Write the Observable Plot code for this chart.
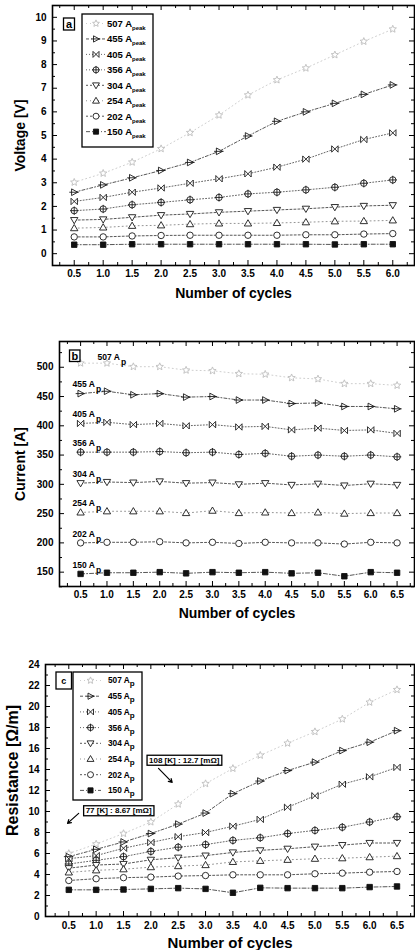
<!DOCTYPE html>
<html><head><meta charset="utf-8">
<script src="https://cdn.jsdelivr.net/npm/d3@7"></script>
<script src="https://cdn.jsdelivr.net/npm/@observablehq/plot@0.6"></script>
<style>
body{margin:0;background:#fff;}
#wrap{position:relative;width:415px;height:950px;overflow:hidden;background:#fff;}
#wrap svg{position:absolute;left:0;}
</style></head><body><div id="wrap"></div>
<script>
// ---------------- data ----------------
const peakCurrents = [507, 455, 405, 356, 304, 254, 202, 150];
const cyclesA = [0.5, 1.0, 1.5, 2.0, 2.5, 3.0, 3.5, 4.0, 4.5, 5.0, 5.5, 6.0];
const cyclesBC = [0.5, 1.0, 1.5, 2.0, 2.5, 3.0, 3.5, 4.0, 4.5, 5.0, 5.5, 6.0, 6.5];

// (a) Voltage [V]
const voltage507 = [3.02, 3.40, 3.87, 4.44, 5.12, 5.86, 6.71, 7.35, 7.85, 8.41, 8.98, 9.50];
const voltage455 = [2.60, 2.91, 3.21, 3.52, 3.86, 4.33, 4.98, 5.60, 6.00, 6.36, 6.74, 7.14];
const voltage405 = [2.21, 2.38, 2.60, 2.78, 2.98, 3.17, 3.38, 3.66, 4.00, 4.43, 4.83, 5.11];
const voltage356 = [1.82, 1.89, 2.07, 2.17, 2.28, 2.38, 2.53, 2.60, 2.70, 2.81, 2.98, 3.12];
const voltage304 = [1.42, 1.45, 1.54, 1.63, 1.68, 1.75, 1.80, 1.85, 1.90, 1.97, 2.02, 2.05];
const voltage254 = [1.08, 1.11, 1.18, 1.20, 1.25, 1.28, 1.28, 1.30, 1.33, 1.37, 1.38, 1.41];
const voltage202 = [0.71, 0.71, 0.75, 0.77, 0.78, 0.78, 0.78, 0.78, 0.80, 0.80, 0.83, 0.85];
const voltage150 = [0.38, 0.38, 0.40, 0.40, 0.40, 0.40, 0.40, 0.40, 0.40, 0.39, 0.40, 0.40];

// (b) Current [A]
const current507 = [507, 507, 501, 501, 495, 494, 489, 488, 482, 480, 472, 472, 469];
const current455 = [455, 459, 453, 455, 449, 450, 444, 444, 438, 439, 433, 433, 429];
const current405 = [404, 406, 402, 404, 400, 402, 398, 399, 393, 396, 392, 393, 387];
const current356 = [355, 355, 355, 356, 354, 355, 351, 353, 348, 350, 348, 350, 347];
const current304 = [302, 304, 303, 305, 302, 303, 300, 302, 299, 301, 298, 301, 299];
const current254 = [252, 254, 254, 254, 251, 255, 251, 252, 251, 252, 250, 251, 251];
const current202 = [200, 201, 201, 202, 200, 201, 199, 201, 200, 200, 198, 201, 200];
const current150 = [147, 149, 149, 150, 148, 150, 149, 150, 148, 149, 143, 150, 149];

// (c) Resistance
const res507 = [6.0, 6.9, 7.9, 9.0, 10.7, 12.65, 14.1, 15.35, 16.5, 17.6, 18.8, 20.4, 21.6];
const res455 = [5.7, 6.4, 7.1, 7.9, 8.8, 9.85, 11.7, 12.9, 13.9, 14.7, 15.8, 16.6, 17.7];
const res405 = [5.5, 5.8, 6.5, 7.05, 7.6, 8.0, 8.6, 9.25, 10.4, 11.5, 12.6, 13.3, 14.2];
const res356 = [5.0, 5.35, 5.7, 6.2, 6.6, 6.85, 7.25, 7.5, 7.9, 8.2, 8.5, 9.0, 9.5];
const res304 = [4.6, 4.9, 5.0, 5.4, 5.6, 5.8, 6.1, 6.3, 6.45, 6.65, 6.8, 7.0, 7.0];
const res254 = [4.2, 4.4, 4.5, 4.7, 4.8, 4.9, 5.2, 5.3, 5.4, 5.5, 5.55, 5.65, 5.75];
const res202 = [3.43, 3.6, 3.7, 3.75, 3.85, 3.9, 3.97, 3.97, 3.97, 4.07, 4.13, 4.22, 4.29];
const res150 = [2.54, 2.54, 2.57, 2.63, 2.7, 2.63, 2.26, 2.73, 2.7, 2.7, 2.7, 2.8, 2.86];

// tick labels
const xTicksA = [0.5, 1.0, 1.5, 2.0, 2.5, 3.0, 3.5, 4.0, 4.5, 5.0, 5.5, 6.0];
const xMinorA = [0.25, 0.75, 1.25, 1.75, 2.25, 2.75, 3.25, 3.75, 4.25, 4.75, 5.25, 5.75, 6.25];
const xTicksBC = [0.5, 1.0, 1.5, 2.0, 2.5, 3.0, 3.5, 4.0, 4.5, 5.0, 5.5, 6.0, 6.5];
const xMinorBC = [0.25, 0.75, 1.25, 1.75, 2.25, 2.75, 3.25, 3.75, 4.25, 4.75, 5.25, 5.75, 6.25, 6.75];
const yTicksA = [0, 1, 2, 3, 4, 5, 6, 7, 8, 9, 10];
const yMinorA = [-0.5, 0.5, 1.5, 2.5, 3.5, 4.5, 5.5, 6.5, 7.5, 8.5, 9.5];
const yTicksB = [150, 200, 250, 300, 350, 400, 450, 500];
const yMinorB = [125, 175, 225, 275, 325, 375, 425, 475, 525];
const yTicksC = [0, 2, 4, 6, 8, 10, 12, 14, 16, 18, 20, 22, 24];
const yMinorC = [1, 3, 5, 7, 9, 11, 13, 15, 17, 19, 21, 23];

// annotations in (c)
const annText = ["108 [K] : 12.7 [mΩ]", "77 [K] : 8.67 [mΩ]"];
const annX = [2.62, 1.42];
const annY = [14.87, 10.06];
const arrowFromX = [2.14, 0.68];
const arrowFromY = [14.1, 9.82];
const arrowToX = [2.39, 0.476];
const arrowToY = [12.77, 8.87];

// ---------------- symbols & styles ----------------
const rad = s => Math.sqrt(s / Math.PI);
const symStar = {draw(c, s) { const r = rad(s) * 1.2, ri = r * 0.45; for (let k = 0; k < 10; k++) { const a = -Math.PI / 2 + k * Math.PI / 5; const rr = k % 2 ? ri : r; const px = rr * Math.cos(a), py = rr * Math.sin(a); if (k) c.lineTo(px, py); else c.moveTo(px, py); } c.closePath(); }};
const symTriRight = {draw(c, s) { const r = rad(s) * 1.1; c.moveTo(r, 0); c.lineTo(-r * 0.75, -r * 0.95); c.lineTo(-r * 0.75, r * 0.95); c.closePath(); c.moveTo(-r * 1.4, 0); c.lineTo(r * 1.3, 0); }};
const symBowtie = {draw(c, s) { const r = rad(s); c.moveTo(-r, -r); c.lineTo(r, r); c.lineTo(r, -r); c.lineTo(-r, r); c.closePath(); }};
const symCirclePlus = {draw(c, s) { const r = rad(s); c.moveTo(r, 0); c.arc(0, 0, r, 0, 2 * Math.PI); c.moveTo(-r * 1.3, 0); c.lineTo(r * 1.3, 0); c.moveTo(0, -r * 1.3); c.lineTo(0, r * 1.3); }};
const symTriDown = {draw(c, s) { const r = rad(s) * 1.15; c.moveTo(0, r); c.lineTo(-r, -r * 0.7); c.lineTo(r, -r * 0.7); c.closePath(); }};
const symTriUp = {draw(c, s) { const r = rad(s) * 1.15; c.moveTo(0, -r); c.lineTo(-r, r * 0.7); c.lineTo(r, r * 0.7); c.closePath(); }};
const symCircle = {draw(c, s) { const r = rad(s); c.moveTo(r, 0); c.arc(0, 0, r, 0, 2 * Math.PI); }};
const symSquare = {draw(c, s) { const r = rad(s) * 0.85; c.rect(-r, -r, 2 * r, 2 * r); }};

const styles = [
  {sym: symStar, stroke: "#bdbdbd", fill: "white", line: "#c8c8c8", dash: "1,3"},
  {sym: symTriRight, stroke: "#1a1a1a", fill: "white", line: "#444", dash: "3,2,1,2"},
  {sym: symBowtie, stroke: "#1a1a1a", fill: "white", line: "#555", dash: "1,2"},
  {sym: symCirclePlus, stroke: "#1a1a1a", fill: "white", line: "#555", dash: "1,2"},
  {sym: symTriDown, stroke: "#1a1a1a", fill: "white", line: "#444", dash: "2,2"},
  {sym: symTriUp, stroke: "#1a1a1a", fill: "white", line: "#888", dash: "1,3"},
  {sym: symCircle, stroke: "#1a1a1a", fill: "white", line: "#444", dash: "2,2"},
  {sym: symSquare, stroke: "#111", fill: "#111", line: "#444", dash: "4,2,1,2"}
];

const FONT = "'Liberation Sans', Arial, sans-serif";
const W = 415;
const wrap = document.getElementById("wrap");

function buildPanel(cfg) {
  const mR = 1;
  const iw = W - cfg.mL - mR, ih = cfg.height - cfg.mT - cfg.mB;
  const marks = [];
  const tk = {stroke: "#000", strokeWidth: 1};
  // inward ticks, all four sides
  marks.push(Plot.ruleX(cfg.xTicks, {insetTop: ih - 5, ...tk}));
  marks.push(Plot.ruleX(cfg.xTicks, {insetBottom: ih - 5, ...tk}));
  marks.push(Plot.ruleX(cfg.xMinor, {insetTop: ih - 3, ...tk}));
  marks.push(Plot.ruleX(cfg.xMinor, {insetBottom: ih - 3, ...tk}));
  marks.push(Plot.ruleY(cfg.yTicks, {insetRight: iw - 5, ...tk}));
  marks.push(Plot.ruleY(cfg.yTicks, {insetLeft: iw - 5, ...tk}));
  marks.push(Plot.ruleY(cfg.yMinor, {insetRight: iw - 3, ...tk}));
  marks.push(Plot.ruleY(cfg.yMinor, {insetLeft: iw - 3, ...tk}));
  // series lines
  cfg.series.forEach((vals, i) => {
    const st = styles[i];
    const data = cfg.cycles.map((c, j) => ({x: c, y: vals[j]}));
    marks.push(Plot.line(data, {x: "x", y: "y", stroke: st.line, strokeWidth: 0.9, strokeDasharray: st.dash}));
  });
  cfg.series.forEach((vals, i) => {
    const st = styles[i];
    const data = cfg.cycles.map((c, j) => ({x: c, y: vals[j]}));
    marks.push(Plot.dot(data, {x: "x", y: "y", r: 3.2, symbol: st.sym, stroke: st.stroke, fill: st.fill, strokeWidth: 0.9}));
  });
  if (cfg.extra) marks.push(...cfg.extra);
  marks.push(Plot.frame({stroke: "#000", strokeWidth: 1.6}));
  marks.push(Plot.axisX({ticks: cfg.xTicks, tickSize: 0, tickPadding: cfg.xPad, tickFormat: d3.format(".1f"), label: null, fontSize: 10, fontWeight: "bold"}));
  marks.push(Plot.axisY({ticks: cfg.yTicks, tickSize: 0, tickPadding: 6, tickFormat: d3.format("d"), label: null, fontSize: 10, fontWeight: "bold"}));
  marks.push(Plot.text(["Number of cycles"], {text: d => d, frameAnchor: "bottom", lineAnchor: "middle", textAnchor: "middle", dy: cfg.titleDy, fontSize: cfg.titleSize, fontWeight: "bold"}));
  marks.push(Plot.text([cfg.yLabel], {text: d => d, frameAnchor: "left", lineAnchor: "middle", textAnchor: "middle", rotate: -90, dx: cfg.yLabelDx, dy: cfg.yLabelDy || 0, fontSize: cfg.yLabelSize || cfg.titleSize, fontWeight: "bold"}));
  const svg = Plot.plot({
    width: W, height: cfg.height,
    marginLeft: cfg.mL, marginRight: mR, marginTop: cfg.mT, marginBottom: cfg.mB,
    x: {domain: cfg.xDomain},
    y: {domain: cfg.yDomain},
    style: {fontFamily: FONT, color: "#000", background: "transparent", overflow: "visible"},
    marks
  });
  svg.style.top = cfg.top + "px";
  wrap.appendChild(svg);
  return svg;
}

function letterBox(svg, x, y, w, h, letter, fs) {
  const g = d3.select(svg).append("g");
  g.append("rect").attr("x", x).attr("y", y).attr("width", w).attr("height", h).attr("fill", "white").attr("stroke", "#000").attr("stroke-width", 1.3);
  g.append("text").attr("x", x + w / 2).attr("y", y + h / 2).attr("dy", "0.36em").attr("text-anchor", "middle")
    .attr("font-family", FONT).attr("font-weight", "bold").attr("font-size", fs).text(letter);
}

function drawLegend(svg, L) {
  const g = d3.select(svg).append("g");
  g.append("rect").attr("x", L.x).attr("y", L.y).attr("width", L.w).attr("height", L.h).attr("fill", "white").attr("stroke", "#000").attr("stroke-width", 1.3);
  peakCurrents.forEach((name, i) => {
    const st = styles[i];
    const cy = L.row0 + i * L.dy;
    g.append("line").attr("x1", L.lx1).attr("x2", L.lx2).attr("y1", cy).attr("y2", cy)
      .attr("stroke", st.line).attr("stroke-width", 0.9).attr("stroke-dasharray", st.dash);
    const p = d3.path(); st.sym.draw(p, Math.PI * L.r * L.r);
    g.append("path").attr("transform", `translate(${L.mx},${cy})`).attr("d", p.toString())
      .attr("fill", st.fill).attr("stroke", st.stroke).attr("stroke-width", 0.9);
    const t = g.append("text").attr("x", L.tx).attr("y", cy).attr("dy", "0.36em").attr("text-anchor", "start")
      .attr("font-family", FONT).attr("font-weight", "bold").attr("font-size", L.fs);
    t.append("tspan").text(name + " A");
    t.append("tspan").attr("dy", L.subDy).attr("font-size", L.subFs).text(L.sub);
  });
}

// ---------------- panel a ----------------
const svgA = buildPanel({
  top: 0, height: 300, mL: 52, mT: 5, mB: 35,
  xDomain: [0.125, 6.375], yDomain: [-0.5, 10.5],
  xTicks: xTicksA, xMinor: xMinorA, yTicks: yTicksA, yMinor: yMinorA,
  cycles: cyclesA,
  series: [voltage507, voltage455, voltage405, voltage356, voltage304, voltage254, voltage202, voltage150],
  xPad: 4, titleDy: 28, titleSize: 14, yLabel: "Voltage [V]", yLabelDx: -32
});
letterBox(svgA, 63.5, 18, 11, 12, "a", 11);
drawLegend(svgA, {x: 82, y: 14, w: 71, h: 133, row0: 23.5, dy: 15.45, lx1: 86, lx2: 106, mx: 96, r: 3.0, tx: 107, fs: 9.5, sub: "peak", subFs: 6, subDy: 3});

// ---------------- panel b ----------------
const bSeries = [current507, current455, current405, current356, current304, current254, current202, current150];
const labelB = peakCurrents.map((p, i) => ({x: cyclesBC[0], y: bSeries[i][0], t: p + " A", first: i === 0}));
const svgB = buildPanel({
  top: 300, height: 330, mL: 59, mT: 41, mB: 44,
  xDomain: [0.1, 6.83], yDomain: [125.5, 544],
  xTicks: xTicksBC, xMinor: xMinorBC, yTicks: yTicksB, yMinor: yMinorB,
  cycles: cyclesBC, series: bSeries,
  xPad: 4, titleDy: 27, titleSize: 14, yLabel: "Current [A]", yLabelDx: -39,
  extra: [
    Plot.text(labelB.filter(d => !d.first), {x: "x", y: "y", text: "t", dx: -8, dy: -9, textAnchor: "start", fontSize: 8.5, fontWeight: "bold"}),
    Plot.text(labelB.filter(d => !d.first), {x: "x", y: "y", text: () => "p", dx: 15.5, dy: -4, textAnchor: "start", fontSize: 8.5, fontWeight: "bold"}),
    Plot.text(labelB.filter(d => d.first), {x: "x", y: "y", text: "t", dx: 17, dy: -6, textAnchor: "start", fontSize: 8.5, fontWeight: "bold"}),
    Plot.text(labelB.filter(d => d.first), {x: "x", y: "y", text: () => "p", dx: 40.5, dy: -1, textAnchor: "start", fontSize: 8.5, fontWeight: "bold"})
  ]
});
letterBox(svgB, 69.5, 50, 10.5, 11.5, "b", 11);

// ---------------- panel c ----------------
const arrows = annText.map((t, i) => ({x1: arrowFromX[i], y1: arrowFromY[i], x2: arrowToX[i], y2: arrowToY[i]}));
const anns = annText.map((t, i) => ({x: annX[i], y: annY[i], t}));
const svgC = buildPanel({
  top: 630, height: 320, mL: 45, mT: 34, mB: 34,
  xDomain: [0.074, 6.82], yDomain: [0, 24],
  xTicks: xTicksBC, xMinor: xMinorBC, yTicks: yTicksC, yMinor: yMinorC,
  cycles: cyclesBC,
  series: [res507, res455, res405, res356, res304, res254, res202, res150],
  xPad: 5, titleDy: 27, titleSize: 15, yLabel: "Resistance [Ω/m]", yLabelDx: -33, yLabelDy: -20, yLabelSize: 16,
  extra: [
    Plot.arrow(arrows, {x1: "x1", y1: "y1", x2: "x2", y2: "y2", stroke: "#000", strokeWidth: 1.2, headLength: 5})
  ]
});
letterBox(svgC, 56, 42, 15.5, 17, "c", 9);
drawLegend(svgC, {x: 73, y: 42, w: 69, h: 128, row0: 50.5, dy: 15.7, lx1: 80, lx2: 101, mx: 90.5, r: 3.0, tx: 108, fs: 8.3, sub: "p", subFs: 8, subDy: 3});

// boxed annotations, positioned through the plot's scales
(function () {
  const sx = svgC.scale("x"), sy = svgC.scale("y");
  const g = d3.select(svgC).append("g");
  anns.forEach(a => {
    const t = g.append("text").attr("x", sx.apply(a.x)).attr("y", sy.apply(a.y)).attr("dy", "0.36em")
      .attr("text-anchor", "middle").attr("font-family", FONT).attr("font-weight", "bold").attr("font-size", 8).text(a.t);
    const bb = t.node().getBBox();
    g.insert("rect", "text").attr("x", bb.x - 2).attr("y", bb.y - 0.5).attr("width", bb.width + 4).attr("height", bb.height + 1)
      .attr("fill", "white").attr("stroke", "#000").attr("stroke-width", 1.3);
  });
})();
</script>
</body></html>
